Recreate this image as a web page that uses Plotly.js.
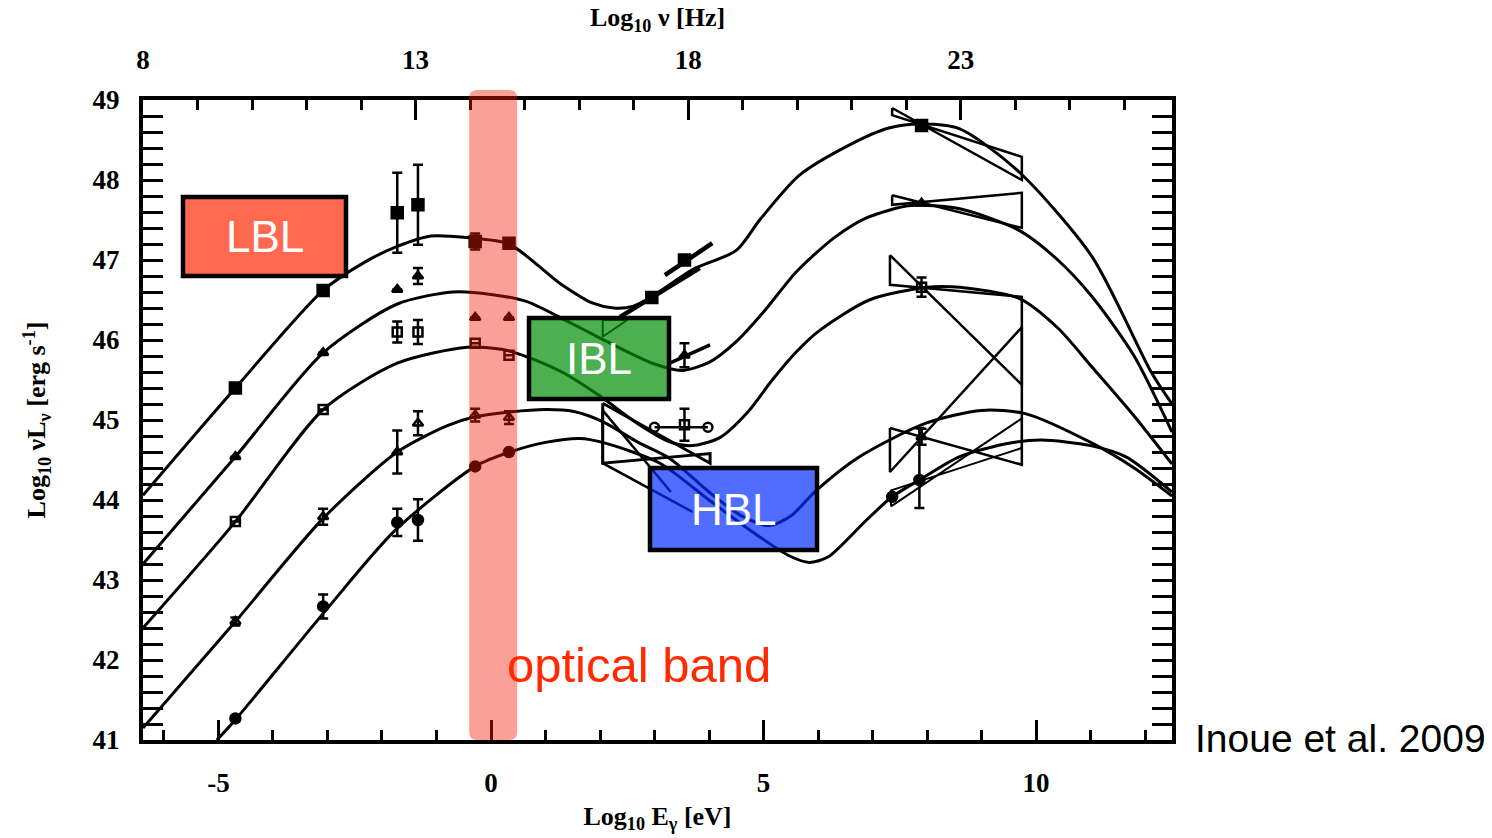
<!DOCTYPE html>
<html>
<head>
<meta charset="utf-8">
<script src="https://cdn.plot.ly/plotly-3.0.1.min.js"></script>
<style>
html,body{margin:0;padding:0;background:#fff;}
#chart{width:1492px;height:838px;}
</style>
</head>
<body>
<div id="chart"></div>
<script>
// ---------- model curves (log10 E [eV], log10 nuL_nu [erg/s]) ----------
const curve1X = [-6.385,-4.69,-3.08,-2.3,-1.72,-1.1,-0.44,0.33,1.26,1.87,2.25,2.6,2.95,3.7,4.5,4.93,5.66,6.58,7.3,7.9,8.6,9.69,11.03,12.12,12.495];
const curve1Y = [44.06,45.40,46.62,46.98,47.17,47.30,47.28,47.20,46.71,46.46,46.40,46.42,46.54,46.88,47.12,47.50,48.06,48.44,48.65,48.70,48.64,48.10,47.04,45.59,45.20];
const curve2X = [-6.385,-4.69,-3.08,-1.72,-0.7,0.0,0.66,1.5,2.3,3.0,3.5,4.0,4.5,5.0,5.6,6.3,6.9,7.7,8.6,9.69,10.4,11.03,11.8,12.495];
const curve2Y = [43.20,44.54,45.84,46.45,46.60,46.57,46.48,46.20,45.92,45.70,45.62,45.72,45.98,46.35,46.85,47.28,47.53,47.68,47.64,47.37,47.00,46.54,45.80,44.85];
const curve3X = [-6.385,-4.69,-3.08,-1.72,-0.44,0.22,0.66,1.3,2.0,2.7,3.3,3.7,4.2,4.7,5.16,5.6,6.03,6.94,8.0,8.6,9.69,10.4,11.03,11.8,12.495];
const curve3Y = [42.40,43.73,45.13,45.71,45.91,45.88,45.79,45.60,45.30,44.95,44.72,44.68,44.78,45.09,45.50,45.85,46.12,46.50,46.66,46.66,46.52,46.15,45.66,45.05,44.45];
const curve4X = [-6.385,-4.69,-3.08,-1.72,-0.8,-0.29,0.35,1.0,1.5,2.05,2.7,3.28,4.0,4.6,5.1,5.5,5.97,6.76,7.98,9.0,9.8,11.03,11.8,12.495];
const curve4Y = [41.15,42.48,43.77,44.60,44.93,45.04,45.10,45.13,45.11,44.98,44.72,44.52,44.10,43.80,43.68,43.80,44.12,44.54,44.96,45.12,45.08,44.71,44.40,44.05];
const curve5X = [-5.03,-4.67,-3.02,-1.76,-0.29,0.35,1.0,1.63,2.05,3.1,4.0,4.8,5.48,5.84,6.19,6.89,7.36,7.86,8.59,9.5,10.1,11.0,11.65,12.495];
const curve5Y = [41.00,41.27,42.63,43.62,44.42,44.60,44.72,44.77,44.72,44.46,44.00,43.60,43.30,43.22,43.29,43.75,44.04,44.25,44.54,44.71,44.75,44.68,44.54,44.10];

// ---------- averaged data points per luminosity bin ----------
const bin1X = [-4.69,-3.08,-1.72,-1.34,-0.29,0.33,2.95,3.55,7.9];
const bin1Y = [45.40,46.62,47.59,47.69,47.23,47.21,46.53,47.00,48.68];
const bin1E = [0,0,0.50,0.50,0.10,0,0,0,0];
const bin2X = [-4.69,-3.08,-1.72,-1.34,-0.29,0.33,3.55,7.9];
const bin2Y = [44.54,45.84,46.63,46.80,46.28,46.28,45.81,47.71];
const bin2E = [0,0,0,0.10,0,0,0.15,0];
const bin3X = [-4.69,-3.08,-1.72,-1.34,-0.29,0.33,3.55,7.9];
const bin3Y = [43.73,45.13,46.10,46.10,45.96,45.81,44.94,46.66];
const bin3E = [0,0,0.13,0.15,0,0,0.20,0.12];
const bin4X = [-4.69,-3.08,-1.72,-1.34,-0.29,0.33,7.9];
const bin4Y = [42.48,43.79,44.60,44.96,45.06,45.03,44.79];
const bin4E = [0.05,0.10,0.27,0.15,0.08,0.08,0.10];
const bin5X = [-4.69,-3.08,-1.72,-1.34,-0.29,0.33,7.36,7.86];
const bin5Y = [41.27,42.67,43.72,43.75,44.42,44.60,44.04,44.25];
const bin5E = [0,0.15,0.17,0.26,0,0,0,0];
const bin5EPlus = [0,0.15,0.17,0.26,0,0,0,0.65];
const bin5EMinus = [0,0.15,0.17,0.26,0,0,0,0.35];

// ---------- gamma-ray bowties ----------
const gBow1X = [7.36,9.74,9.74,7.36,7.36];
const gBow1Y = [48.90,48.00,48.29,48.81,48.90];
const gBow2X = [7.36,9.74,9.74,7.36,7.36];
const gBow2Y = [47.81,47.40,47.84,47.69,47.81];
const gBow3X = [7.32,9.74,9.74,7.32,7.32];
const gBow3Y = [47.06,45.44,46.54,46.69,47.06];
const gBow4X = [7.32,9.74,9.74,7.32,7.32];
const gBow4Y = [44.90,44.44,46.16,44.35,44.90];
const gBow5X = [7.34,9.74,9.74,7.34,7.34];
const gBow5Y = [43.92,45.02,44.65,44.12,43.92];

// ---------- X-ray bowties ----------
const xBow1aX = [2.37,3.83];
const xBow1aY = [46.29,46.90];
const xBow1bX = [3.19,4.06];
const xBow1bY = [46.81,47.21];
const xBow1cX = [2.05,2.05,2.50,2.05];
const xBow1cY = [46.25,46.04,46.25,46.25];
const xBow2X = [3.28,4.02];
const xBow2Y = [45.71,45.94];
const xBow3X = [3.00,3.98];
const xBow3Y = [44.91,44.91];
const xBow4X = [2.05,4.02,4.02,2.05,2.05];
const xBow4Y = [45.21,44.46,44.58,44.46,45.21];
const xBow5X = [2.05,3.30,2.05,2.05,3.70];
const xBow5Y = [45.12,44.10,45.12,44.46,43.85];

// ---------- axes ----------
const eRange = [-6.385, 12.495];
const yRange = [41, 49];
const nuOffset = 14.383;           // log10 nu[Hz] = log10 E[eV] + 14.383
const eTicks = [-5, 0, 5, 10];
const nuTicks = [8, 13, 18, 23];
const yTicks = [41, 42, 43, 44, 45, 46, 47, 48, 49];
const opticalBand = [-0.40, 0.48];

const traces = [];
function curve(x, y) {
  traces.push({x:x, y:y, mode:'lines', type:'scatter', hoverinfo:'skip',
    line:{color:'black', width:3, shape:'spline', smoothing:0.75}});
}
[[curve1X,curve1Y],[curve2X,curve2Y],[curve3X,curve3Y],[curve4X,curve4Y],[curve5X,curve5Y]].forEach(c=>curve(c[0],c[1]));

function poly(x, y, w) {
  traces.push({x:x, y:y, mode:'lines', type:'scatter', hoverinfo:'skip',
    line:{color:'black', width:w||2.5}});
}
poly(gBow1X,gBow1Y); poly(gBow2X,gBow2Y); poly(gBow3X,gBow3Y); poly(gBow4X,gBow4Y); poly(gBow5X,gBow5Y,2);
poly(xBow1aX,xBow1aY,4.5); poly(xBow1bX,xBow1bY,4.5); poly(xBow1cX,xBow1cY,2);
poly(xBow2X,xBow2Y,3.5); poly(xBow3X,xBow3Y,2.5); poly(xBow4X,xBow4Y,3); poly(xBow5X,xBow5Y,2.5);
traces.push({x:xBow3X, y:xBow3Y, mode:'markers', type:'scatter', hoverinfo:'skip',
  marker:{symbol:'circle-open', size:9, color:'black', line:{width:2.5}}});

function points(x, y, err, sym, size, errPlus, errMinus) {
  const ey = errPlus ? {type:'data', symmetric:false, array:errPlus, arrayminus:errMinus}
                     : {type:'data', array:err};
  Object.assign(ey, {visible:true, color:'black', thickness:2.5, width:5});
  traces.push({x:x, y:y, mode:'markers', type:'scatter', hoverinfo:'skip',
    marker:{symbol:sym, size:size, color:'black', line:{color:'black', width:2.5}},
    error_y: ey});
}
points(bin1X, bin1Y, bin1E, 'square', 11);
points(bin2X, bin2Y, bin2E, 'triangle-up', 9);
points(bin3X, bin3Y, bin3E, 'square-open', 9);
points(bin4X, bin4Y, bin4E, 'triangle-up-open', 9);
points(bin5X, bin5Y, bin5E, 'circle', 10, bin5EPlus, bin5EMinus);

// top axis (frequency) carrier
traces.push({x:[nuTicks[0]], y:[null], xaxis:'x2', yaxis:'y', mode:'markers', hoverinfo:'skip'});

const tickFont = {family:'Liberation Serif', size:27, color:'black', weight:'bold'};
const titleFont = {family:'Liberation Serif', size:26, color:'black', weight:'bold'};

// helpers: pixel / data -> paper
const L = 143, T = 100, W = 1029, H = 640;
const px = v => (v - L) / W;
const py = v => (740 - v) / H;
const ex = e => (e - eRange[0]) / (eRange[1] - eRange[0]);

const boxes = [
  {x0:183, x1:346, y0:197, y1:276, fill:'rgba(255,41,5,0.70)', text:'LBL'},
  {x0:529, x1:669, y0:318, y1:399, fill:'rgba(0,143,7,0.70)', text:'IBL'},
  {x0:650, x1:817, y0:468, y1:550, fill:'rgba(0,45,255,0.69)', text:'HBL'}
];

const shapes = [];
// optical band (rounded rectangle), placed through the x scale
(function(){
  const a = ex(opticalBand[0]), b = ex(opticalBand[1]);
  const top = (740 - 90) / H, bot = 0;
  const rx = 8 / W, ry = 8 / H;
  shapes.push({type:'path', xref:'paper', yref:'paper', layer:'above',
    path:`M ${a+rx},${bot} L ${b-rx},${bot} Q ${b},${bot} ${b},${bot+ry} L ${b},${top-ry} Q ${b},${top} ${b-rx},${top} L ${a+rx},${top} Q ${a},${top} ${a},${top-ry} L ${a},${bot+ry} Q ${a},${bot} ${a+rx},${bot} Z`,
    fillcolor:'rgba(245,25,0,0.41)', line:{width:0}});
})();
const annotations = [];
boxes.forEach(b => {
  shapes.push({type:'rect', xref:'paper', yref:'paper', layer:'above',
    x0:px(b.x0), x1:px(b.x1), y0:py(b.y1), y1:py(b.y0),
    fillcolor:b.fill, line:{color:'black', width:4.5}});
  annotations.push({xref:'paper', yref:'paper', x:px((b.x0+b.x1)/2), y:py((b.y0+b.y1)/2),
    xanchor:'center', yanchor:'middle', showarrow:false, text:b.text,
    font:{family:'Liberation Sans', size:44, color:'white'}});
});
annotations.push({xref:'paper', yref:'paper', x:px(505), y:py(665), xanchor:'left', yanchor:'middle',
  showarrow:false, text:'optical band', font:{family:'Liberation Sans', size:49, color:'#ff2a00'}});
annotations.push({xref:'paper', yref:'paper', x:px(1193), y:py(738), xanchor:'left', yanchor:'middle',
  showarrow:false, text:'Inoue et al. 2009', font:{family:'Liberation Sans', size:39, color:'black'}});

const layout = {
  width:1492, height:838, showlegend:false,
  paper_bgcolor:'white', plot_bgcolor:'white',
  margin:{l:L, r:1492-1172, t:T, b:838-740, pad:0},
  xaxis:{range:eRange, showline:true, linewidth:4, linecolor:'black', mirror:false,
    ticks:'inside', ticklen:20, tickwidth:3, tickcolor:'black',
    tickvals:eTicks, ticktext:eTicks.map(String), ticklabelstandoff:16,
    minor:{ticks:'inside', ticklen:10, tickwidth:3, tickcolor:'black', dtick:1, tick0:0, showgrid:false},
    showgrid:false, zeroline:false, tickfont:tickFont, automargin:false,
    title:{text:'Log<sub>10</sub> E<sub>γ</sub> [eV]', font:titleFont, standoff:10}},
  xaxis2:{range:[eRange[0]+nuOffset, eRange[1]+nuOffset], overlaying:'x', side:'top', anchor:'y',
    showline:true, linewidth:4, linecolor:'black',
    ticks:'inside', ticklen:20, tickwidth:3, tickcolor:'black',
    tickvals:nuTicks, ticktext:nuTicks.map(String), ticklabelstandoff:16,
    minor:{ticks:'inside', ticklen:10, tickwidth:3, tickcolor:'black', dtick:1, tick0:0, showgrid:false},
    showgrid:false, zeroline:false, tickfont:tickFont, automargin:false,
    title:{text:'Log<sub>10</sub> ν [Hz]', font:titleFont, standoff:12}},
  yaxis:{range:yRange, showline:true, linewidth:4, linecolor:'black', mirror:'allticks',
    ticks:'inside', ticklen:20, tickwidth:3, tickcolor:'black',
    tickvals:yTicks, ticktext:yTicks.map(String), ticklabelstandoff:14,
    minor:{ticks:'inside', ticklen:10, tickwidth:3, tickcolor:'black', dtick:0.2, tick0:41, showgrid:false},
    showgrid:false, zeroline:false, tickfont:tickFont, automargin:false,
    title:{text:'Log<sub>10</sub> νL<sub>ν</sub> [erg s<sup>-1</sup>]', font:titleFont, standoff:40}},
  shapes:shapes, annotations:annotations
};
Plotly.newPlot('chart', traces, layout, {staticPlot:true, displayModeBar:false});
</script>
</body>
</html>
